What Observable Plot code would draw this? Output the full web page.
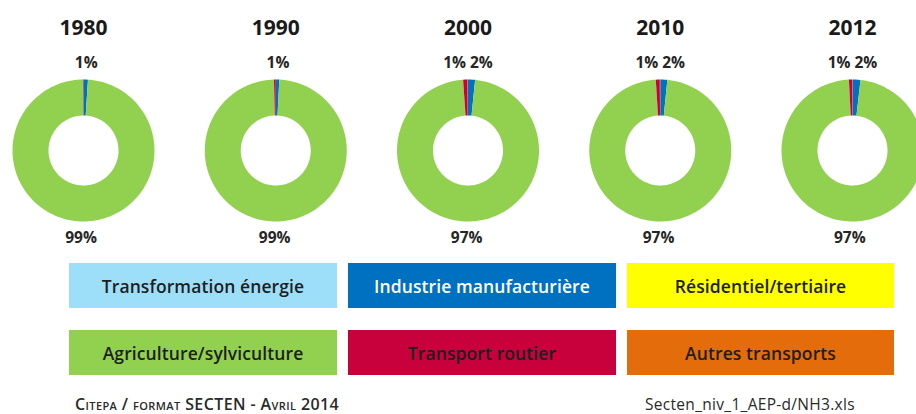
<!DOCTYPE html>
<html><head><meta charset="utf-8">
<script src="https://cdn.jsdelivr.net/npm/d3@7"></script>
<script src="https://cdn.jsdelivr.net/npm/@observablehq/plot@0.6"></script>
<style>
body{margin:0;background:#fff;font-family:"Open Sans",sans-serif;}
#wrap{position:relative;width:916px;height:414px;overflow:hidden;background:#fff}
#chart{position:absolute;left:0;top:0}
#legend{position:absolute;left:69px;top:263px;display:grid;grid-template-columns:268px 268px 267px;grid-auto-rows:45px;column-gap:11px;row-gap:22px}
.sw{display:flex;align-items:center;justify-content:center;font-size:17.5px;font-weight:600;color:#1e1e1e;letter-spacing:0.1px}
#src1{position:absolute;left:75px;top:393px;font-size:16px;font-variant:small-caps;color:#2a2a2a;letter-spacing:0.4px;font-weight:600}
#src2{position:absolute;left:645px;top:393px;font-size:15.5px;color:#2a2a2a;letter-spacing:0.3px}
</style></head>
<body><div id="wrap"><div id="chart"></div><div id="legend"></div>
<div id="src1">Citepa / format SECTEN - Avril 2014</div>
<div id="src2">Secten_niv_1_AEP-d/NH3.xls</div></div>
<script>
const years = ["1980", "1990", "2000", "2010", "2012"];
const categories = ["Transformation énergie", "Industrie manufacturière", "Résidentiel/tertiaire", "Agriculture/sylviculture", "Transport routier", "Autres transports"];
const colors = ["#9ddff9", "#0070c0", "#ffff00", "#92d050", "#c8003c", "#e46c0a"];
// shares (%) per category, same order as categories
const share1980 = [0.0, 1.0, 0.0, 98.9, 0.1, 0.0];
const share1990 = [0.0, 0.8, 0.0, 98.8, 0.4, 0.0];
const share2000 = [0.0, 1.6, 0.0, 97.3, 1.0, 0.1];
const share2010 = [0.0, 1.6, 0.0, 97.4, 0.9, 0.1];
const share2012 = [0.1, 1.7, 0.0, 97.4, 0.8, 0.0];
const shares = [share1980, share1990, share2000, share2010, share2012];

// layout (pixels -> radius units)
const W = 916, H = 256, PX = 71;
const innerR = 35 / 71, outerR = 1, labelR = 1.23, titleY = 1.725;
const cxOf = i => (83 + i * 192.25) / PX;

const arcs = [], labels = [], titles = [];
years.forEach((yr, i) => {
  const vals = shares[i];
  const total = d3.sum(vals);
  const cx = cxOf(i);
  titles.push({x: cx, y: titleY, text: yr});
  let cum = 0;
  const slices = [];
  vals.forEach((v, k) => {
    const a0 = cum / total, a1 = (cum + v) / total;
    cum += v;
    if (v <= 0) return;
    const n = Math.max(2, Math.ceil((a1 - a0) * 160));
    const key = yr + "|" + k;
    for (let j = 0; j <= n; j++) {
      const t = 2 * Math.PI * (a0 + (a1 - a0) * j / n);
      arcs.push({key, cat: categories[k], x: cx + outerR * Math.sin(t), y: outerR * Math.cos(t)});
    }
    for (let j = n; j >= 0; j--) {
      const t = 2 * Math.PI * (a0 + (a1 - a0) * j / n);
      arcs.push({key, cat: categories[k], x: cx + innerR * Math.sin(t), y: innerR * Math.cos(t)});
    }
    const pct = Math.round(v);
    if (pct >= 1) slices.push({mid: (a0 + a1) / 2, pct, big: v > 50});
  });
  const small = slices.filter(s => !s.big);
  slices.forEach(s => {
    const t = 2 * Math.PI * s.mid;
    let x = cx + labelR * Math.sin(t), anchor = "middle";
    if (!s.big && small.length > 1) {
      x = cx;
      anchor = s.mid > 0.5 ? "end" : "start";
    }
    labels.push({x, y: labelR * Math.cos(t), text: s.pct + "%", anchor});
  });
});

const lab = {fontSize: 15.5, fontWeight: "bold", fill: "#262626"};
const chart = Plot.plot({
  width: W, height: H,
  marginTop: 0, marginRight: 0, marginBottom: 0, marginLeft: 0,
  x: {domain: [0, W / PX], axis: null},
  y: {domain: [-(H - 150) / PX, 150 / PX], axis: null},
  color: {domain: categories, range: colors},
  style: {background: "transparent", fontFamily: "'Open Sans', sans-serif"},
  marks: [
    Plot.line(arcs, {x: "x", y: "y", z: "key", fill: "cat", stroke: "none", curve: "linear"}),
    Plot.text(titles, {x: "x", y: "y", text: "text", fontSize: 21, fontWeight: "bold", fill: "#1a1a1a"}),
    Plot.text(labels.filter(d => d.anchor === "middle"), {x: "x", y: "y", text: "text", ...lab, textAnchor: "middle"}),
    Plot.text(labels.filter(d => d.anchor === "end"), {x: "x", y: "y", text: "text", ...lab, textAnchor: "end", dx: -2}),
    Plot.text(labels.filter(d => d.anchor === "start"), {x: "x", y: "y", text: "text", ...lab, textAnchor: "start", dx: 2})
  ]
});
document.getElementById("chart").appendChild(chart);

const legend = document.getElementById("legend");
categories.forEach((c, k) => {
  const div = document.createElement("div");
  div.className = "sw";
  div.style.background = colors[k];
  if (k === 1) div.style.color = "#fff";
  div.textContent = c;
  legend.appendChild(div);
});
</script>
</body></html>
